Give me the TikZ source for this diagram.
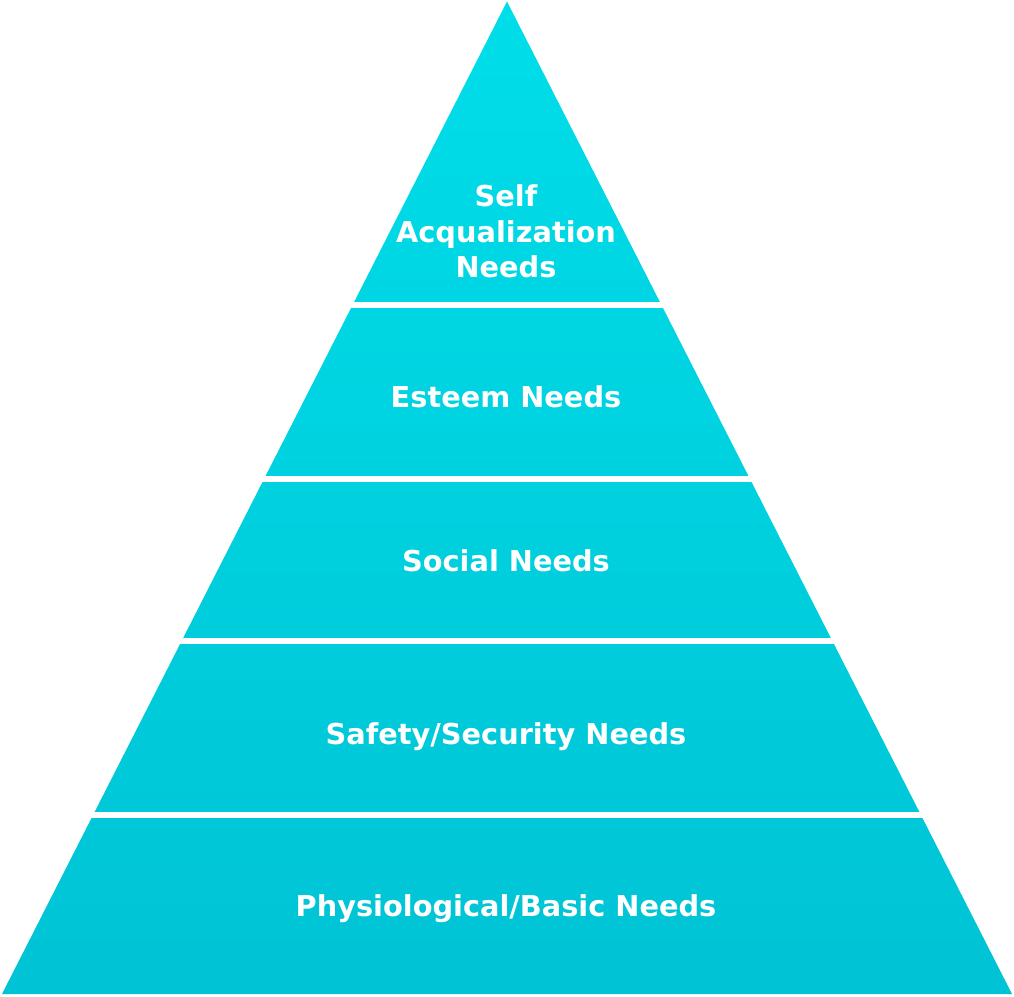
\documentclass[tikz,border=0pt]{standalone}
\usepackage{fontspec}
\newfontfamily\labfont{DejaVu Sans}
\definecolor{pyrtop}{HTML}{00DEE9}
\definecolor{pyrbot}{HTML}{00C3D5}
\begin{document}
\begin{tikzpicture}[x=1pt,y=-1pt,
  gap/.style={fill=white,draw=none},
  lab/.style={text=white,font=\labfont\bfseries\fontsize{28.8}{35.5}\selectfont,anchor=base,inner sep=0pt,align=center}]
\useasboundingbox (0,0) rectangle (1014,996);
\coordinate (apex) at (507,1.5);
\coordinate (bl) at (2,994);
\coordinate (br) at (1012,994);
\shade[top color=pyrtop,bottom color=pyrbot] (apex) -- (br) -- (bl) -- cycle;
\fill[gap] (0,301.5) rectangle (1014,307.8);
\fill[gap] (0,475.5) rectangle (1014,481.8);
\fill[gap] (0,637.5) rectangle (1014,643.8);
\fill[gap] (0,811.8) rectangle (1014,818.1);
\node[lab] (self) at (506,277.7) {Self\\Acqualization\\Needs};
\node[lab] (esteem) at (506,407.7) {Esteem Needs};
\node[lab] (social) at (506,571) {Social Needs};
\node[lab] (safety) at (506,744.3) {Safety/Security Needs};
\node[lab] (phys) at (506,916.7) {Physiological/Basic Needs};
\end{tikzpicture}
\end{document}
